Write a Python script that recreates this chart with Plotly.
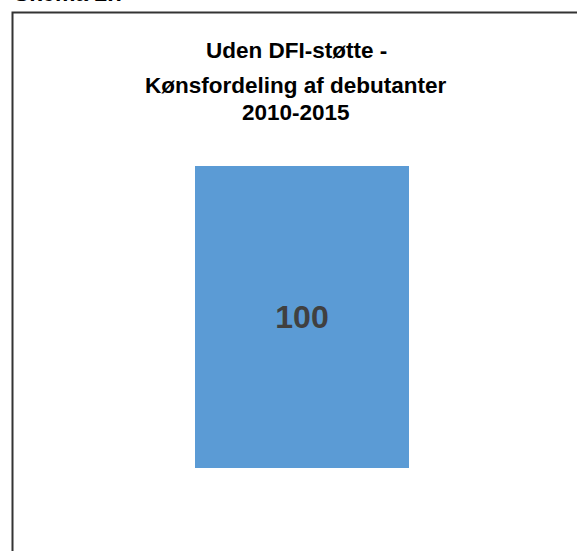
import plotly.graph_objects as go

categories = ["Uden DFI-støtte"]
values = [100]
labels = ["100"]
title_lines = ["Uden DFI-støtte -", "Kønsfordeling af debutanter", "2010-2015"]
corner_label = "Skema 2.7"

W, H = 577, 551
ml, mr, mt, mb = 195, 168, 166, 83
pw = W - ml - mr
ph = H - mt - mb

def px(x):
    return (x - ml) / pw

def py(y):
    return (H - mb - y) / ph

fig = go.Figure(go.Bar(
    x=categories, y=values, text=labels,
    marker=dict(color="#5B9BD5", line=dict(width=0)),
    textposition="inside", insidetextanchor="middle",
    textfont=dict(family="Liberation Sans", size=32, color="#404040", weight="bold"),
    hoverinfo="skip",
))

title_y = [50, 85, 112]
annotations = []
for t, yy in zip(title_lines, title_y):
    annotations.append(dict(
        text=t, xref="paper", yref="paper", x=px(296), y=py(yy),
        xanchor="center", yanchor="middle", showarrow=False,
        font=dict(family="Liberation Sans", size=22.5, color="#000000", weight="bold")))
annotations.append(dict(
    text=corner_label, xref="paper", yref="paper", x=px(12), y=py(8.5),
    xanchor="left", yanchor="bottom", showarrow=False,
    font=dict(family="Liberation Sans", size=23, color="#000000", weight="bold")))

fig.update_layout(
    width=W, height=H,
    margin=dict(l=ml, r=mr, t=mt, b=mb),
    paper_bgcolor="white", plot_bgcolor="white",
    bargap=0, showlegend=False,
    xaxis=dict(visible=False, range=[-0.5, 0.5]),
    yaxis=dict(visible=False, range=[0, 100]),
    shapes=[dict(type="rect", xref="paper", yref="paper",
                 x0=px(12.5), x1=px(W + 20), y0=py(H + 20), y1=py(12.5),
                 line=dict(color="#333333", width=2), fillcolor="rgba(0,0,0,0)", layer="above")],
    annotations=annotations,
)

fig.write_html(
    "out.html",
    config=dict(displayModeBar=False),
    post_script="document.body.style.margin='0px';document.documentElement.style.overflow='hidden';",
)
